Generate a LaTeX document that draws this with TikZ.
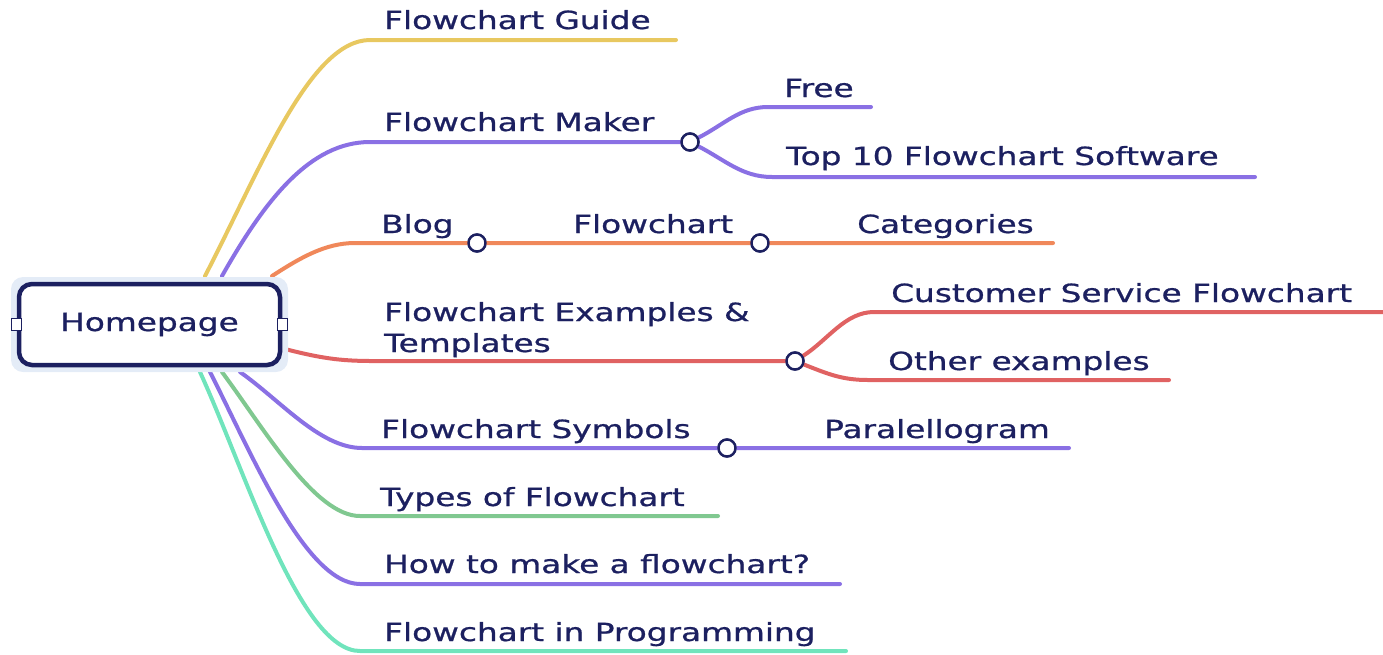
\documentclass[tikz,border=0pt]{standalone}
\usepackage{fontspec}
\setmainfont[FakeBold=0.6,AutoFakeBold=0.6]{DejaVu Sans}
\newfontfamily\labelfont[FakeBold=0.7]{DejaVu Sans}
\usepackage{graphicx}

\definecolor{ink}{HTML}{1C2060}
\definecolor{cGuide}{HTML}{E8C860}
\definecolor{cPurple}{HTML}{8A70E4}
\definecolor{cOrange}{HTML}{F0885A}
\definecolor{cRed}{HTML}{E06262}
\definecolor{cGreen}{HTML}{80C890}
\definecolor{cTeal}{HTML}{70E4BC}
\definecolor{halo}{HTML}{E4ECF7}

\newcommand\wide[1]{\scalebox{1.31}[1]{#1}}

\tikzset{
  lbl/.style={anchor=base west, inner sep=0pt, text=ink,
              font=\labelfont\fontsize{25}{29}\selectfont},
  br/.style={line width=4pt, line cap=round},
  knot/.style={circle, draw=ink, fill=white, line width=2.4pt,
               minimum size=17pt, inner sep=0pt},
  handle/.style={rectangle, draw=ink, fill=white, line width=1.4pt,
                 minimum width=10pt, minimum height=12pt, inner sep=0pt},
}

\begin{document}
\begin{tikzpicture}[x=1pt,y=-1pt]
\useasboundingbox (0,0) rectangle (1383,654);

% branch anchors on the root box
\coordinate (sGuide) at (205,276);
\coordinate (sMaker) at (222,276);
\coordinate (sBlog)  at (272,276);
\coordinate (sEx)    at (285,349);
\coordinate (sSym)   at (240,372);
\coordinate (sTypes) at (222,372);
\coordinate (sHow)   at (210,372);
\coordinate (sProg)  at (200,372);

% elbows and line ends
\coordinate (eGuide) at (370,40);   \coordinate (tGuide) at (676,40);
\coordinate (eMaker) at (370,142);
\coordinate (eBlog)  at (355,243);  \coordinate (tBlog)  at (1053,243);
\coordinate (eEx)    at (372,361);
\coordinate (eSym)   at (362,448);  \coordinate (tSym)   at (1069,448);
\coordinate (eTypes) at (360,516);  \coordinate (tTypes) at (718,516);
\coordinate (eHow)   at (360,584);  \coordinate (tHow)   at (840,584);
\coordinate (eProg)  at (360,651);  \coordinate (tProg)  at (846,651);

\coordinate (eFree)  at (768,107);  \coordinate (tFree)  at (871,107);
\coordinate (eTop)   at (772,177);  \coordinate (tTop)   at (1255,177);
\coordinate (eCust)  at (874,312);  \coordinate (tCust)  at (1383,312);
\coordinate (eOther) at (868,380);  \coordinate (tOther) at (1169,380);

% knots
\node[knot] (kMaker) at (690,142) {};
\node[knot] (kBlog)  at (477,243) {};
\node[knot] (kFlow)  at (760,243) {};
\node[knot] (kEx)    at (795,361) {};
\node[knot] (kSym)   at (727,448) {};

% main branches
\draw[br,cGuide]  (sGuide) .. controls (260,170) and (310,40) .. (eGuide) -- (tGuide);
\draw[br,cPurple] (sMaker) .. controls (265,200) and (310,142) .. (eMaker) -- (kMaker);
\draw[br,cOrange] (sBlog)  .. controls (300,258) and (325,243) .. (eBlog) -- (kBlog) -- (kFlow) -- (tBlog);
\draw[br,cRed]    (sEx)    .. controls (320,358) and (340,361) .. (eEx) -- (kEx);
\draw[br,cPurple] (sSym)   .. controls (280,400) and (320,448) .. (eSym) -- (kSym) -- (tSym);
\draw[br,cGreen]  (sTypes) .. controls (265,430) and (315,516) .. (eTypes) -- (tTypes);
\draw[br,cPurple] (sHow)   .. controls (250,450) and (305,584) .. (eHow) -- (tHow);
\draw[br,cTeal]   (sProg)  .. controls (245,470) and (300,651) .. (eProg) -- (tProg);

% sub-branches
\draw[br,cPurple] (kMaker) .. controls (725,124) and (740,107) .. (eFree) -- (tFree);
\draw[br,cPurple] (kMaker) .. controls (725,160) and (742,177) .. (eTop) -- (tTop);
\draw[br,cRed]    (kEx) .. controls (828,340) and (845,312) .. (eCust) -- (tCust);
\draw[br,cRed]    (kEx) .. controls (828,374) and (842,380) .. (eOther) -- (tOther);

% knots on top of the lines
\foreach \k in {kMaker,kBlog,kFlow,kEx,kSym}
  \node[knot] at (\k) {};

% root box
\fill[halo, rounded corners=12pt] (11,277) rectangle (288,372);
\node[draw=ink, line width=4.5pt, fill=white, rounded corners=13pt,
      minimum width=261pt, minimum height=81pt, inner sep=0pt,
      text=ink, font=\labelfont\fontsize{25}{29}\selectfont] (root) at (149.5,324.5) {\wide{Homepage}};
\node[handle] (hL) at (root.west) {};
\node[handle] (hR) at (root.east) {};

% labels
\node[lbl] (lGuide) at (384,29)  {\wide{Flowchart Guide}};
\node[lbl] (lMaker) at (384,131) {\wide{Flowchart Maker}};
\node[lbl] (lFree)  at (784,97)  {\wide{Free}};
\node[lbl] (lTop)   at (786,165) {\wide{Top 10 Flowchart Software}};
\node[lbl] (lBlog)  at (381,233) {\wide{Blog}};
\node[lbl] (lFlow)  at (573,233) {\wide{Flowchart}};
\node[lbl] (lCat)   at (857,233) {\wide{Categories}};
\node[lbl] (lEx1)   at (384,321) {\wide{Flowchart Examples \&}};
\node[lbl] (lEx2)   at (384,352) {\wide{Templates}};
\node[lbl] (lCust)  at (891,302) {\wide{Customer Service Flowchart}};
\node[lbl] (lOther) at (888,370) {\wide{Other examples}};
\node[lbl] (lSym)   at (381,438) {\wide{Flowchart Symbols}};
\node[lbl] (lPara)  at (824,438) {\wide{Paralellogram}};
\node[lbl] (lTypes) at (380,506) {\wide{Types of Flowchart}};
\node[lbl] (lHow)   at (384,573) {\wide{How to make a flowchart?}};
\node[lbl] (lProg)  at (384,641) {\wide{Flowchart in Programming}};
\end{tikzpicture}
\end{document}
